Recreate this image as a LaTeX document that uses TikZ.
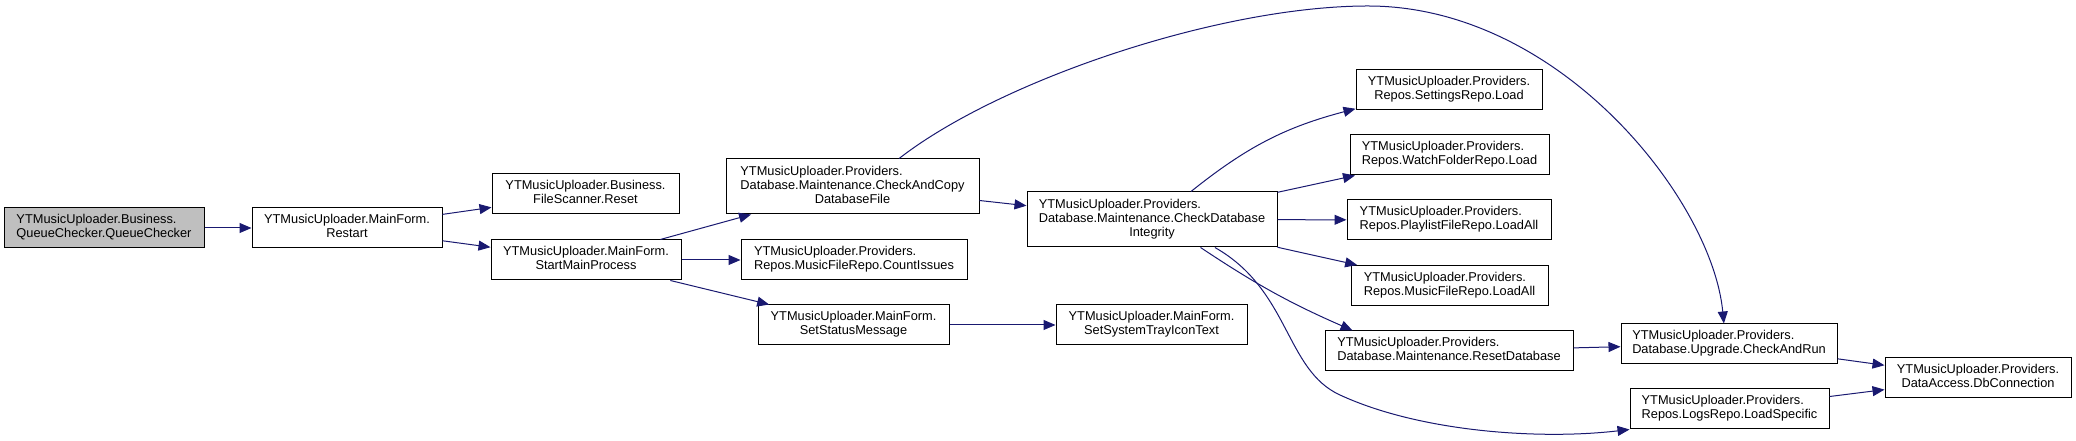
\documentclass[tikz,border=0pt]{standalone}
\usepackage{fontspec}
\setmainfont{Liberation Sans}
\usetikzlibrary{arrows.meta}
\newcommand{\PX}{0.75pt}
\newcommand{\fnlabel}[2]{\begin{tabular}{@{}l@{}}#1\\\multicolumn{1}{@{}c@{}}{#2}\end{tabular}}
\definecolor{cgedge}{RGB}{25,25,112}
\definecolor{cgcur}{RGB}{191,191,191}

\begin{document}
\begin{tikzpicture}[
    x=\PX, y=\PX,
    >={Triangle[length=9pt,width=7.5pt]},
    fn/.style={draw=black, fill=white, line width=0.75pt, inner sep=0pt,
      minimum height=40*\PX, font=\fontsize{9.6}{10.5}\selectfont},
    tall/.style={minimum height=55*\PX},
    cur/.style={fill=cgcur},
    wd/.style={minimum width=#1*\PX},
    call/.style={->, draw=cgedge, line width=0.75pt},
  ]
  \useasboundingbox (0,0) rectangle (2076,441);

  % callers on the left
  \node[fn, cur, wd=200] (qc)      at (104,213)   {\fnlabel{YTMusicUploader.Business.}{QueueChecker.QueueChecker}};
  \node[fn, wd=190]      (restart) at (347,213)   {\fnlabel{YTMusicUploader.MainForm.}{Restart}};
  \node[fn, wd=187]      (reset)   at (585.5,247) {\fnlabel{YTMusicUploader.Business.}{FileScanner.Reset}};
  \node[fn, wd=190]      (smp)     at (586,181)   {\fnlabel{YTMusicUploader.MainForm.}{StartMainProcess}};

  \node[fn, tall, wd=253] (cacdb)  at (852.5,254.5) {\fnlabel{YTMusicUploader.Providers.\\Database.Maintenance.CheckAndCopy}{DatabaseFile}};
  \node[fn, wd=226]      (count)   at (854,181)   {\fnlabel{YTMusicUploader.Providers.}{Repos.MusicFileRepo.CountIssues}};
  \node[fn, wd=191]      (ssm)     at (853.5,116) {\fnlabel{YTMusicUploader.MainForm.}{SetStatusMessage}};
  \node[fn, wd=191]      (systray) at (1151.5,116) {\fnlabel{YTMusicUploader.MainForm.}{SetSystemTrayIconText}};
  \node[fn, tall, wd=250] (cdi)    at (1152,221.5) {\fnlabel{YTMusicUploader.Providers.\\Database.Maintenance.CheckDatabase}{Integrity}};

  % repos column
  \node[fn, wd=186] (settings) at (1449,351.5) {\fnlabel{YTMusicUploader.Providers.}{Repos.SettingsRepo.Load}};
  \node[fn, wd=199] (watch)    at (1449.5,286) {\fnlabel{YTMusicUploader.Providers.}{Repos.WatchFolderRepo.Load}};
  \node[fn, wd=204] (playlist) at (1449,221)   {\fnlabel{YTMusicUploader.Providers.}{Repos.PlaylistFileRepo.LoadAll}};
  \node[fn, wd=197] (musicall) at (1449.5,155.5) {\fnlabel{YTMusicUploader.Providers.}{Repos.MusicFileRepo.LoadAll}};
  \node[fn, wd=248] (resetdb)  at (1449,90)    {\fnlabel{YTMusicUploader.Providers.}{Database.Maintenance.ResetDatabase}};

  \node[fn, wd=216] (checkrun) at (1729,97)    {\fnlabel{YTMusicUploader.Providers.}{Database.Upgrade.CheckAndRun}};
  \node[fn, wd=199] (logs)     at (1729.5,32)  {\fnlabel{YTMusicUploader.Providers.}{Repos.LogsRepo.LoadSpecific}};
  \node[fn, wd=186] (dbconn)   at (1978,63)    {\fnlabel{YTMusicUploader.Providers.}{DataAccess.DbConnection}};

  % calls
  \draw[call] (qc) -- (restart);
  \draw[call] (restart) -- (reset);
  \draw[call] (restart) -- (smp);
  \draw[call] (smp) -- (cacdb);
  \draw[call] (smp) -- (count);
  \draw[call] (smp) -- (ssm);
  \draw[call] (ssm) -- (systray);
  \draw[call] (cacdb) -- (cdi);
  \draw[call] (cacdb.31) .. controls (1000,361) and (1220,435) .. (1368,435)
    .. controls (1560,435) and (1712,241) .. (checkrun.104);

  \draw[call] (cdi) to[bend left=12] (settings);
  \draw[call] (cdi) -- (watch);
  \draw[call] (cdi) -- (playlist);
  \draw[call] (cdi) -- (musicall);
  \draw[call] (cdi.-30) to[bend right=5] (resetdb.168);
  \draw[call] (cdi.-24) .. controls (1290,151) and (1285,71) .. (1340,46)
    .. controls (1420,9) and (1540,1) .. (logs.south west);

  \draw[call] (resetdb) -- (checkrun);
  \draw[call] (checkrun) -- (dbconn);
  \draw[call] (logs) -- (dbconn);

\end{tikzpicture}
\end{document}
